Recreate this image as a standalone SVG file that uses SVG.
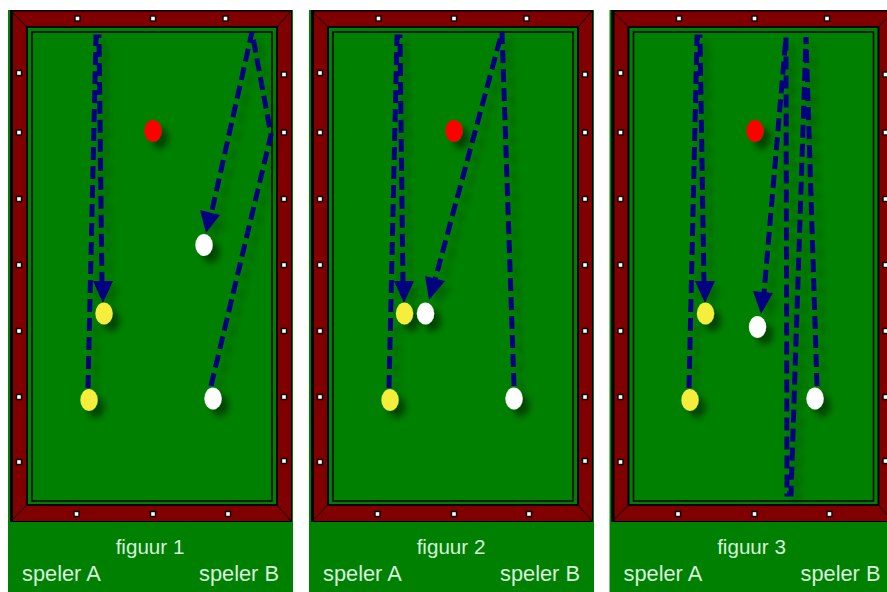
<svg xmlns="http://www.w3.org/2000/svg" xmlns:xlink="http://www.w3.org/1999/xlink" width="887" height="592" viewBox="0 0 887 592">
<style>
.panel{fill:#008000}
.rail{fill:#800000;stroke:#000;stroke-width:1}
.frame{fill:#008000;stroke:#000;stroke-width:2}
.inner{fill:#008000;stroke:#000;stroke-width:1.5}
.mitre{stroke:#000;stroke-width:1;fill:none}
.dm{fill:#fff;stroke:#000;stroke-width:1.4}
.lbl{font-family:"Liberation Sans",Arial,sans-serif;font-size:21.8px;fill:#d6f2dc}
.fig{font-size:20.6px}
.c{fill:none;stroke:#000080;stroke-width:5;stroke-dasharray:13 6}
.head{fill:#000080}
.red{fill:#f00}.yel{fill:#f5ee3c}.wht{fill:#fff}
</style>
<defs>
<filter id="sh" x="-30%" y="-30%" width="170%" height="170%"><feGaussianBlur in="SourceGraphic" stdDeviation="0.5" result="a"/><feDropShadow in="a" dx="7" dy="7" stdDeviation="3" flood-color="#000" flood-opacity="0.45"/></filter>
<filter id="lsh" filterUnits="userSpaceOnUse" x="0" y="0" width="887" height="592"><feDropShadow dx="7" dy="7" stdDeviation="3" flood-color="#000" flood-opacity="0.18"/></filter>
<g id="table">
<rect class="panel" x="8" y="10" width="285" height="582"/>
<rect x="10" y="10" width="282" height="512" fill="#000"/>
<rect class="rail" x="12" y="11" width="279.500" height="510.500"/>
<rect x="10" y="10" width="3" height="512" fill="#000"/>
<rect class="frame" x="27" y="27" width="250" height="478"/>
<rect class="inner" x="32" y="32" width="240" height="469"/>
<path class="mitre" d="M11 11L27 27M291 11L277 27M11 521L27 505M291 521L277 505"/>
<g class="dm">
<rect x="75" y="16" width="5" height="5"/><rect x="150.500" y="16" width="5" height="5"/><rect x="223" y="16" width="5" height="5"/>
<rect x="74" y="511.500" width="5" height="5"/><rect x="150.500" y="511.500" width="5" height="5"/><rect x="225.500" y="511.500" width="5" height="5"/>
<rect x="16.500" y="70.500" width="5" height="5"/><rect x="16.500" y="130" width="5" height="5"/><rect x="16.500" y="196.500" width="5" height="5"/><rect x="16.500" y="262.500" width="5" height="5"/><rect x="16.500" y="328.500" width="5" height="5"/><rect x="16.500" y="394.500" width="5" height="5"/><rect x="16.500" y="459.500" width="5" height="5"/>
<rect x="281.500" y="72" width="5" height="5"/><rect x="281.500" y="130" width="5" height="5"/><rect x="281.500" y="196.500" width="5" height="5"/><rect x="281.500" y="262.500" width="5" height="5"/><rect x="281.500" y="328.500" width="5" height="5"/><rect x="281.500" y="394.500" width="5" height="5"/><rect x="281.500" y="458.500" width="5" height="5"/>
</g>
</g>
</defs>
<rect width="887" height="592" fill="#fff"/>
<g id="figuur-1">
<use xlink:href="#table" href="#table"/>
<text class="lbl fig" x="150" y="554" text-anchor="middle">figuur 1</text>
<text class="lbl" x="22" y="581">speler A</text>
<text class="lbl" x="199" y="581">speler B</text>
</g>
<g id="figuur-2" transform="translate(301 0)">
<use xlink:href="#table" href="#table"/>
<text class="lbl fig" x="150" y="554" text-anchor="middle">figuur 2</text>
<text class="lbl" x="22" y="581">speler A</text>
<text class="lbl" x="199" y="581">speler B</text>
</g>
<g id="figuur-3" transform="translate(601.500 0)">
<use xlink:href="#table" href="#table"/>
<text class="lbl fig" x="150" y="554" text-anchor="middle">figuur 3</text>
<text class="lbl" x="22" y="581">speler A</text>
<text class="lbl" x="199" y="581">speler B</text>
</g>
<g id="connectors" filter="url(#lsh)">
<path class="c" d="M88 388L96 37H99L102 285"/>
<path class="head" d="M93 281L113 281L103 303Z"/>
<path class="c" d="M211 386L271 135L252 32L211 215"/>
<path class="head" d="M200 210L220 215L206 233Z"/>
<path class="c" d="M389 388L397 37H400L403 285"/>
<path class="head" d="M394 281L414 281L404 303Z"/>
<path class="c" d="M514 386L502 32L435 280"/>
<path class="head" d="M425 276L445 281L429 300Z"/>
<path class="c" d="M689 388L697 37H700L704 285"/>
<path class="head" d="M695 281L715 281L705 303Z"/>
<path class="c" d="M817 386L806 37L791 494H787L786 37L764 293"/>
<path class="head" d="M753 291L773 293L761 314Z"/>
</g>
<g id="balls" filter="url(#sh)">
<ellipse class="red" cx="153" cy="131" rx="8.700" ry="11"/>
<ellipse class="yel" cx="104" cy="313.500" rx="8.700" ry="11"/>
<ellipse class="yel" cx="89" cy="400" rx="8.700" ry="11"/>
<ellipse class="wht" cx="204" cy="245" rx="8.700" ry="11"/>
<ellipse class="wht" cx="213" cy="398.500" rx="8.700" ry="11"/>
<ellipse class="red" cx="454" cy="131" rx="8.700" ry="11"/>
<ellipse class="yel" cx="404.500" cy="313.500" rx="8.700" ry="11"/>
<ellipse class="yel" cx="390" cy="400" rx="8.700" ry="11"/>
<ellipse class="wht" cx="425.500" cy="313.500" rx="8.700" ry="11"/>
<ellipse class="wht" cx="514" cy="398.500" rx="8.700" ry="11"/>
<ellipse class="red" cx="755" cy="131" rx="8.700" ry="11"/>
<ellipse class="yel" cx="705.500" cy="313.500" rx="8.700" ry="11"/>
<ellipse class="yel" cx="690" cy="400" rx="8.700" ry="11"/>
<ellipse class="wht" cx="757.500" cy="327" rx="8.700" ry="11"/>
<ellipse class="wht" cx="815" cy="398.500" rx="8.700" ry="11"/>
</g>
</svg>
